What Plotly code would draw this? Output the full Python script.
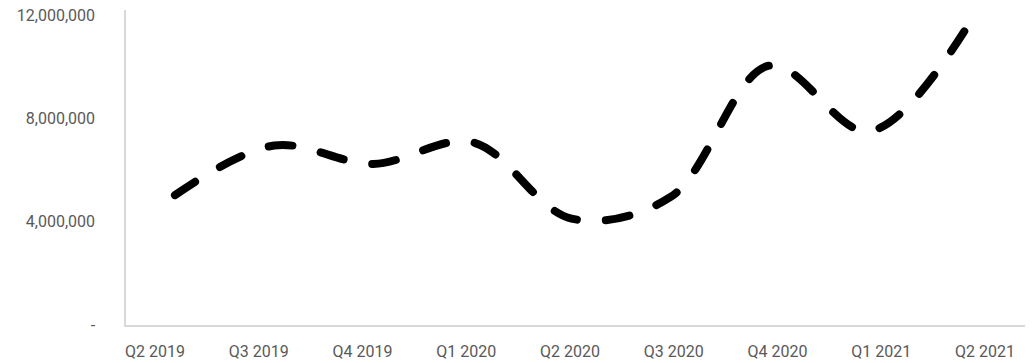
import plotly.graph_objects as go

categories = ["Q2 2019", "Q3 2019", "Q4 2019", "Q1 2020", "Q2 2020",
              "Q3 2020", "Q4 2020", "Q1 2021", "Q2 2021"]
values = [5030000, 6950000, 6240000, 7080000, 4120000,
          4960000, 10050000, 7500000, 11600000]
y_tick_vals = [0, 4000000, 8000000, 12000000]
y_tick_text = ["-", "4,000,000", "8,000,000", "12,000,000"]

FONT = "Roboto"
TXT = "#595959"
AX = "#d9d9d9"

fig = go.Figure()

fig.add_trace(go.Scatter(
    x=list(range(len(categories))), y=values, mode="lines",
    line=dict(color="#000000", width=8, shape="spline", smoothing=1.0, dash="24px,29px"),
    xaxis="x", yaxis="y", showlegend=False, hoverinfo="skip"))

# invisible trace carrying the category labels
fig.add_trace(go.Scatter(
    x=categories, y=[None] * len(categories), mode="lines",
    xaxis="x2", yaxis="y", showlegend=False, hoverinfo="skip"))

fig.update_layout(
    width=1034, height=363,
    margin=dict(l=126, r=9, t=10, b=38, autoexpand=False),
    paper_bgcolor="white", plot_bgcolor="white",
    font=dict(family=FONT, size=16, color=TXT),
    xaxis=dict(range=[-0.494, 8.575], showticklabels=False, showgrid=False,
               zeroline=False, showline=True, linecolor=AX, linewidth=2, ticks="",
               automargin=False),
    xaxis2=dict(overlaying="x", side="bottom", type="category",
                range=[-0.2795, 8.386], showgrid=False, zeroline=False,
                showline=False, ticks="outside", ticklen=12,
                tickcolor="rgba(0,0,0,0)", automargin=False,
                tickfont=dict(family=FONT, size=16, color=TXT)),
    yaxis=dict(range=[0, 12200000], tickvals=y_tick_vals, ticktext=y_tick_text,
               showgrid=False, zeroline=False, showline=True, linecolor=AX,
               linewidth=1.5, ticks="outside", ticklen=26,
               tickcolor="rgba(0,0,0,0)", automargin=False,
               tickfont=dict(family=FONT, size=16, color=TXT)),
)

post = """
var fix = function(){
  document.querySelectorAll('.scatterlayer path.js-line').forEach(function(p){
    p.style.strokeLinecap = 'round';
  });
};
fix();
setTimeout(fix, 50);
"""

fig.write_html("out.html", post_script=post)
